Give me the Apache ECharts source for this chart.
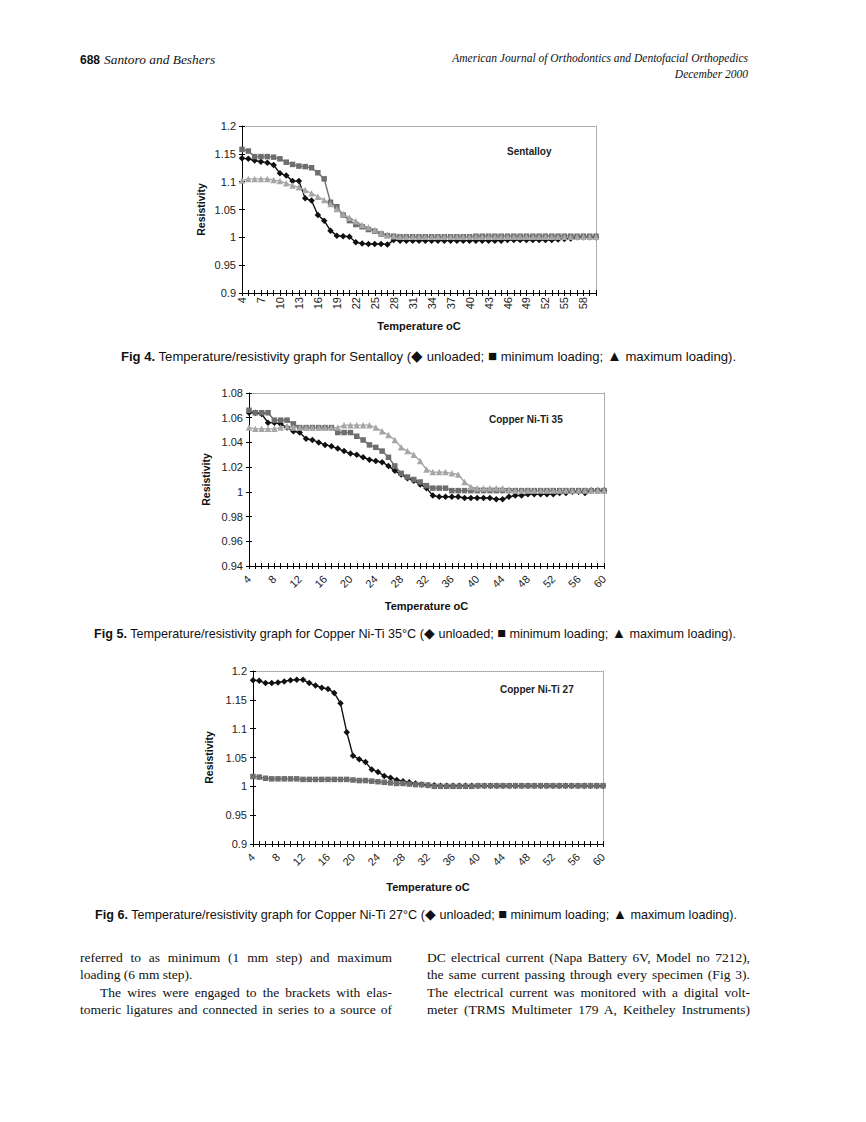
<!DOCTYPE html>
<html><head><meta charset="utf-8">
<script src="https://cdn.jsdelivr.net/npm/echarts@6/dist/echarts.min.js"></script>
<style>
html,body{margin:0;padding:0;background:#fff;}
#page{position:relative;width:866px;height:1122px;overflow:hidden;background:#fff;}
#chart{position:absolute;left:0;top:0;width:866px;height:1122px;}
.t{position:absolute;white-space:nowrap;color:#111;line-height:17px;}
.hdr{font-family:'Liberation Serif',serif;font-style:italic;font-size:13.4px;}
.hdr2{font-family:'Liberation Serif',serif;font-style:italic;font-size:11.5px;}
.pg{font-family:'Liberation Sans',sans-serif;font-weight:bold;font-style:normal;font-size:12px;}
.cap{font-family:'Liberation Sans',sans-serif;left:0;text-align:center;}
.sym{font-size:1.15em;}
.body{font-family:'Liberation Serif',serif;font-size:13.5px;text-align:justify;text-align-last:justify;white-space:nowrap;}
.left{text-align:left;text-align-last:left;}
</style></head>
<body>
<div id="page">
<div id="chart"></div>
<div class="t" style="left:80px;top:50px;"><span class="pg">688</span> <span class="hdr">Santoro and Beshers</span></div>
<div class="t hdr2" style="right:118px;top:50px;text-align:right;">American Journal of Orthodontics and Dentofacial Orthopedics</div>
<div class="t hdr2" style="right:118px;top:66px;text-align:right;">December 2000</div>
<div class="t cap" style="top:347px;width:857px;font-size:13.1px;"><b>Fig 4.</b> Temperature/resistivity graph for Sentalloy (<span class="sym">◆</span> unloaded; <span class="sym">■</span> minimum loading; <span class="sym">▲</span> maximum loading).</div>
<div class="t cap" style="top:625px;width:830px;font-size:12.6px;"><b>Fig 5.</b> Temperature/resistivity graph for Copper Ni-Ti 35°C (<span class="sym">◆</span> unloaded; <span class="sym">■</span> minimum loading; <span class="sym">▲</span> maximum loading).</div>
<div class="t cap" style="top:906px;width:832px;font-size:12.6px;"><b>Fig 6.</b> Temperature/resistivity graph for Copper Ni-Ti 27°C (<span class="sym">◆</span> unloaded; <span class="sym">■</span> minimum loading; <span class="sym">▲</span> maximum loading).</div>
<div class="t body" style="left:80px;top:949px;width:312px;">referred to as minimum (1 mm step) and maximum</div>
<div class="t body left" style="left:80px;top:966px;width:312px;">loading (6 mm step).</div>
<div class="t body" style="left:100px;top:984px;width:292px;">The wires were engaged to the brackets with elas-</div>
<div class="t body" style="left:80px;top:1001px;width:312px;">tomeric ligatures and connected in series to a source of</div>
<div class="t body" style="left:427px;top:949px;width:323px;">DC electrical current (Napa Battery 6V, Model no 7212),</div>
<div class="t body" style="left:427px;top:966px;width:323px;">the same current passing through every specimen (Fig 3).</div>
<div class="t body" style="left:427px;top:984px;width:323px;">The electrical current was monitored with a digital volt-</div>
<div class="t body" style="left:427px;top:1001px;width:323px;">meter (TRMS Multimeter 179 A, Keitheley Instruments)</div>
</div>
<script>
// Temperature categories (°C)
const temps = ['4','5','6','7','8','9','10','11','12','13','14','15','16','17','18','19','20','21','22','23','24','25','26','27','28','29','30','31','32','33','34','35','36','37','38','39','40','41','42','43','44','45','46','47','48','49','50','51','52','53','54','55','56','57','58','59','60'];

// Fig 4 Sentalloy
const sentUnloaded = [1.142,1.141,1.138,1.136,1.134,1.130,1.115,1.111,1.101,1.101,1.070,1.066,1.040,1.030,1.012,1.003,1.002,1.001,0.991,0.989,0.988,0.988,0.988,0.987,0.995,
  0.994,0.994,0.994,0.994,0.994,0.994,0.994,0.994,0.994,0.994,0.994,0.994,0.994,0.994,0.994,0.994,0.994,
  0.995,0.995,0.995,0.995,0.995,0.995,0.995,0.995,0.996,0.997,0.998,1.000,1.000,1.000,1.000];
const sentMin = [1.158,1.155,1.145,1.145,1.145,1.144,1.141,1.135,1.131,1.128,1.127,1.125,1.116,1.105,1.063,1.055,1.040,1.030,1.023,1.019,1.014,1.011,1.006,1.003,1.002,
  1.001,1.001,1.001,1.001,1.001,1.001,1.001,1.001,1.001,1.001,1.001,1.001,
  1.002,1.002,1.002,1.002,1.002,1.002,1.002,1.002,1.002,1.002,1.002,1.002,1.002,1.002,1.002,1.002,1.002,1.002,1.002,1.002];
const sentMax = [1.102,1.105,1.105,1.105,1.105,1.103,1.101,1.097,1.093,1.090,1.085,1.079,1.073,1.067,1.060,1.051,1.042,1.035,1.029,1.022,1.018,1.013,1.008,1.004,1.002,
  1.001,1.001,1.001,1.001,1.001,1.001,1.001,1.001,1.001,1.001,1.001,1.001,1.001,1.001,1.001,1.001,
  1.001,1.001,1.001,1.001,1.001,1.001,1.001,1.001,1.001,1.001,1.001,1.001,1.001,1.001,1.001,1.001];

// Fig 5 Copper Ni-Ti 35
const cu35Unloaded = [1.064,1.064,1.063,1.056,1.056,1.055,1.052,1.049,1.048,1.043,1.042,1.040,1.038,1.037,1.035,1.033,1.031,1.030,1.028,1.026,1.025,1.024,1.021,1.017,1.014,1.011,1.009,1.006,1.003,
  0.997,0.996,0.996,0.996,0.996,0.995,0.995,0.995,0.995,0.995,0.994,0.994,0.996,0.997,0.997,0.998,0.998,0.998,0.998,0.998,0.999,0.999,1.000,1.000,0.999,1.001,1.001,1.001];
const cu35Min = [1.066,1.064,1.064,1.064,1.058,1.058,1.058,1.055,1.052,1.052,1.052,1.052,1.052,1.052,1.048,1.048,1.048,1.045,1.042,1.038,1.036,1.033,1.028,1.021,1.015,1.012,1.010,1.008,1.005,1.003,1.003,1.003,1.001,
  1.001,1.001,1.001,1.001,1.001,1.001,1.001,1.001,1.001,1.001,1.001,1.001,1.001,1.001,1.001,1.001,1.001,1.001,1.001,1.001,1.001,1.001,1.001,1.001];
const cu35Max = [1.052,1.051,1.051,1.051,1.051,1.052,1.053,1.052,1.052,1.052,1.052,1.052,1.052,1.052,1.052,1.054,1.054,1.054,1.054,1.054,1.052,1.049,1.046,1.042,1.036,1.033,1.030,1.025,1.018,1.016,1.016,1.016,1.015,1.014,1.008,1.004,1.003,1.003,1.003,1.003,1.003,1.002,
  1.001,1.001,1.001,1.001,1.001,1.001,1.001,1.001,1.001,1.001,1.001,1.001,1.001,1.001,1.001];

// Fig 6 Copper Ni-Ti 27
const cu27Unloaded = [1.184,1.183,1.179,1.179,1.180,1.182,1.184,1.185,1.185,1.179,1.175,1.171,1.169,1.162,1.144,1.094,1.053,1.047,1.042,1.029,1.025,1.018,1.015,1.011,1.009,1.007,1.005,1.003,1.002,1.002,
  1.001,1.001,1.001,1.001,1.001,1.001,1.001,1.001,1.001,1.001,1.001,1.001,1.001,1.001,1.001,1.001,1.001,1.001,1.001,1.001,1.001,1.001,1.001,1.001,1.001,1.001,1.001];
const cu27Min = [1.017,1.016,1.014,1.013,1.013,1.013,1.013,1.013,1.012,1.012,1.012,1.012,1.012,1.012,1.012,1.012,1.011,1.010,1.010,1.009,1.008,1.007,1.006,1.005,1.005,1.004,1.003,1.003,1.002,
  1.000,1.000,1.000,1.000,1.000,1.000,1.000,
  1.001,1.001,1.001,1.001,1.001,1.001,1.001,1.001,1.001,1.001,1.001,1.001,1.001,1.001,1.001,1.001,1.001,1.001,1.001,1.001,1.001];

const FONT = 'Liberation Sans';
const panels = [
  {grid:{left:242,top:126,width:354,height:167}, ymin:0.9, ymax:1.2, yint:0.05, lblInt:2, rot:90, xGap:27, yGap:36, lblMargin:4,
   label:{text:'Sentalloy', left:507, top:146},
   series:[[sentUnloaded,'unloaded'],[sentMin,'minimum loading'],[sentMax,'maximum loading']]},
  {grid:{left:249,top:393,width:355,height:173}, ymin:0.94, ymax:1.08, yint:0.02, lblInt:3, rot:45, xGap:34, yGap:38, lblMargin:11,
   label:{text:'Copper Ni-Ti 35', left:489, top:414},
   series:[[cu35Unloaded,'unloaded'],[cu35Min,'minimum loading'],[cu35Max,'maximum loading']]},
  {grid:{left:253,top:671,width:350,height:173}, ymin:0.9, ymax:1.2, yint:0.05, lblInt:3, rot:45, xGap:37, yGap:39, lblMargin:11,
   label:{text:'Copper Ni-Ti 27', left:500, top:684},
   series:[[cu27Unloaded,'unloaded'],[cu27Min,'minimum loading']]}
];
const styles = {
  'unloaded': {symbol:'diamond', symbolSize:6.5, color:'#111111'},
  'minimum loading': {symbol:'rect', symbolSize:5.5, color:'#6e6e6e'},
  'maximum loading': {symbol:'triangle', symbolSize:6.5, color:'#a6a6a6'}
};

const option = {animation:false, grid:[], xAxis:[], yAxis:[], series:[], graphic:[]};
panels.forEach((p, g) => {
  option.grid.push(Object.assign({containLabel:false}, p.grid));
  const xi = option.xAxis.length, yi = option.yAxis.length;
  option.xAxis.push({type:'category', gridIndex:g, data:temps, boundaryGap:false, position:'bottom',
    axisLine:{onZero:false, lineStyle:{color:'#000', width:1}},
    axisTick:{show:true, interval:0, length:3, lineStyle:{color:'#000'}},
    axisLabel:{interval:p.lblInt, rotate:p.rot, fontSize:11, color:'#222', fontFamily:FONT, margin:p.lblMargin},
    splitLine:{show:false},
    name:'Temperature oC', nameLocation:'middle', nameGap:p.xGap,
    nameTextStyle:{fontWeight:'bold', fontSize:11, color:'#111', fontFamily:FONT}});
  option.xAxis.push({type:'category', gridIndex:g, data:temps, boundaryGap:false, position:'bottom',
    axisLine:{show:false, onZero:false}, axisTick:{show:true, inside:true, interval:0, length:3, lineStyle:{color:'#000'}},
    axisLabel:{show:false}, splitLine:{show:false}});
  option.xAxis.push({type:'category', gridIndex:g, data:temps, boundaryGap:false, position:'top',
    axisLine:{show:true, onZero:false, lineStyle:{color:'#9a9a9a', type:'dotted', width:1}}, axisTick:{show:false},
    axisLabel:{show:false}, splitLine:{show:false}});
  option.yAxis.push({type:'value', gridIndex:g, min:p.ymin, max:p.ymax, interval:p.yint, position:'left',
    axisLine:{show:true, onZero:false, lineStyle:{color:'#000', width:1}},
    axisTick:{show:true, length:3, lineStyle:{color:'#000'}},
    axisLabel:{fontSize:11, color:'#222', fontFamily:FONT, margin:6},
    splitLine:{show:false},
    name:'Resistivity', nameLocation:'middle', nameGap:p.yGap, nameRotate:90,
    nameTextStyle:{fontWeight:'bold', fontSize:10.5, color:'#111', fontFamily:FONT}});
  option.yAxis.push({type:'value', gridIndex:g, min:p.ymin, max:p.ymax, interval:p.yint, position:'left',
    axisLine:{show:false, onZero:false}, axisTick:{show:true, inside:true, length:3, lineStyle:{color:'#000'}},
    axisLabel:{show:false}, splitLine:{show:false}});
  option.yAxis.push({type:'value', gridIndex:g, min:p.ymin, max:p.ymax, interval:p.yint, position:'right',
    axisLine:{show:true, onZero:false, lineStyle:{color:'#9a9a9a', type:'dotted', width:1}}, axisTick:{show:false},
    axisLabel:{show:false}, splitLine:{show:false}});
  p.series.forEach(([data, name]) => {
    const s = styles[name];
    option.series.push({type:'line', name:name, xAxisIndex:xi, yAxisIndex:yi, data:data,
      symbol:s.symbol, symbolSize:s.symbolSize, showSymbol:true, showAllSymbol:true,
      itemStyle:{color:s.color}, lineStyle:{color:s.color, width:1.4}});
  });
  option.graphic.push({type:'text', left:p.label.left, top:p.label.top,
    style:{text:p.label.text, font:'bold 10px ' + FONT, fill:'#222'}});
});

const chart = echarts.init(document.getElementById('chart'), null, {renderer:'svg', width:866, height:1122});
chart.setOption(option);
</script>
</body></html>
